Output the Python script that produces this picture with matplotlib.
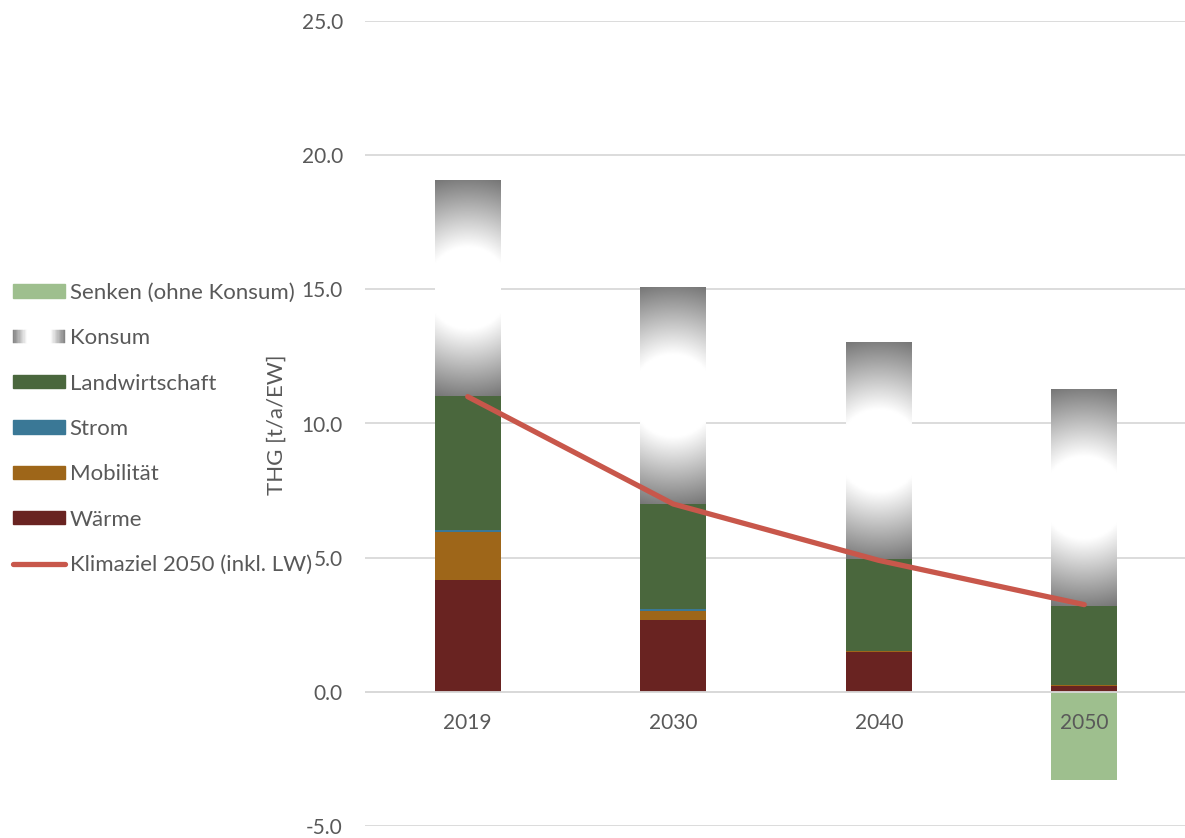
import numpy as np
import matplotlib
matplotlib.use("Agg")
import matplotlib.pyplot as plt
from matplotlib.patches import Rectangle
from matplotlib.lines import Line2D
from matplotlib.legend_handler import HandlerBase

plt.rcParams['font.family'] = ['Lato', 'DejaVu Sans']

years = ["2019", "2030", "2040", "2050"]
waerme = [4.17, 2.68, 1.49, 0.20]
mobilitaet = [1.80, 0.34, 0.04, 0.05]
strom = [0.07, 0.07, 0.01, 0.00]
landwirtschaft = [4.97, 3.91, 3.41, 2.95]
konsum = [8.02, 8.05, 8.05, 8.05]
senken = [0.0, 0.0, 0.0, -3.3]
klimaziel = [11.0, 7.0, 4.9, 3.25]
yticks = [-5, 0, 5, 10, 15, 20, 25]

C_W = "#692321"
C_M = "#9E6619"
C_S = "#3A7896"
C_L = "#4A673D"
C_SE = "#9EBF8E"
C_LINE = "#C8574B"
GRID = "#D9D9D9"
TXT = "#595959"

W_PX, H_PX = 1185, 838
fig = plt.figure(figsize=(W_PX / 100, H_PX / 100), dpi=100)
ax_l, ax_r, ax_t, ax_b = 365, 1187, 21, 826
ax = fig.add_axes([ax_l / W_PX, (H_PX - ax_b) / H_PX, (ax_r - ax_l) / W_PX, (ax_b - ax_t) / H_PX])
ymin, ymax = -5, 25
ax.set_xlim(-0.5, 3.5)
ax.set_ylim(ymin, ymax)
ax.set_autoscale_on(False)

px_per_unit = (ax_b - ax_t) / (ymax - ymin)
x = np.arange(len(years))
bw = 0.32

for v in yticks:
    ax.axhline(v, color=GRID, lw=1.3, zorder=0)

b = np.zeros(4)
for vals, col in [(waerme, C_W), (mobilitaet, C_M), (strom, C_S), (landwirtschaft, C_L)]:
    ax.bar(x, vals, bw, bottom=b, color=col, zorder=1, linewidth=0)
    b = b + np.array(vals)

# Konsum with radial gradient
bar_px_w = bw * (ax_r - ax_l) / 4.0
for i in range(4):
    bottom = b[i]
    h = konsum[i]
    Hp = h * px_per_unit
    nx, ny = 80, 300
    xs = np.linspace(-bar_px_w / 2, bar_px_w / 2, nx)
    ys = np.linspace(-Hp / 2, Hp / 2, ny)
    XX, YY = np.meshgrid(xs, ys)
    r = np.hypot(XX, YY)
    R = Hp / 2
    r0 = 0.38 * R
    val = np.where(r <= r0, 1.0, 1.0 - 0.5 * (r - r0) / (R - r0))
    val = np.clip(val, 0.45, 1.0)
    ax.imshow(val, cmap="gray", vmin=0, vmax=1, extent=[i - bw / 2, i + bw / 2, bottom, bottom + h],
              origin="lower", aspect="auto", interpolation="bilinear", zorder=1)

ax.bar(x, senken, bw, color=C_SE, zorder=1, linewidth=0)
ax.axhline(0, color=GRID, lw=1.3, zorder=1.5)

ax.plot(x, klimaziel, color=C_LINE, lw=3.8, solid_capstyle="round", solid_joinstyle="round", zorder=3)

ax.set_xlim(-0.5, 3.5)
ax.set_ylim(ymin, ymax)

for s in ax.spines.values():
    s.set_visible(False)
ax.spines['bottom'].set_position(('data', 0))
ax.set_xticks(x)
ax.set_xticklabels(years)
ax.set_yticks(yticks)
ax.set_yticklabels([f"{v:.1f}" for v in yticks])
ax.tick_params(axis='both', length=0, labelsize=15, labelcolor=TXT)
ax.tick_params(axis='y', pad=16)
ax.tick_params(axis='x', pad=15)

fig.text(277 / W_PX, 1 - 425 / H_PX, "THG [t/a/EW]", rotation=90, ha="center", va="center",
         fontsize=16, color=TXT)


class GradHandler(HandlerBase):
    def create_artists(self, legend, orig_handle, xdescent, ydescent, width, height, fontsize, trans):
        arts = []
        n = 40
        for k in range(n):
            x0 = -xdescent + width * k / n
            xc = (k + 0.5) / n - 0.5
            d = abs(xc) * 2
            v = 1.0 if d < 0.45 else 1.0 - 0.5 * (d - 0.45) / 0.55
            col = (v, v, v)
            arts.append(Rectangle((x0, -ydescent), width / n + 0.01, height, facecolor=col,
                                  edgecolor=col, lw=0.3, transform=trans))
        return arts


konsum_handle = Rectangle((0, 0), 1, 1)
handles = [Rectangle((0, 0), 1, 1, color=C_SE), konsum_handle, Rectangle((0, 0), 1, 1, color=C_L),
           Rectangle((0, 0), 1, 1, color=C_S), Rectangle((0, 0), 1, 1, color=C_M),
           Rectangle((0, 0), 1, 1, color=C_W),
           Line2D([0], [0], color=C_LINE, lw=3.8, solid_capstyle="round")]
labels = ["Senken (ohne Konsum)", "Konsum", "Landwirtschaft", "Strom", "Mobilität", "Wärme",
          "Klimaziel 2050 (inkl. LW)"]
leg = fig.legend(handles, labels, loc="upper left", bbox_to_anchor=(13 / W_PX, 1 - 283 / H_PX),
                 frameon=False, fontsize=16, labelcolor=TXT, handlelength=2.35, handleheight=0.55,
                 handletextpad=0.2, labelspacing=1.14, borderpad=0, borderaxespad=0,
                 handler_map={konsum_handle: GradHandler()})

fig.savefig("out.png", dpi=100)
